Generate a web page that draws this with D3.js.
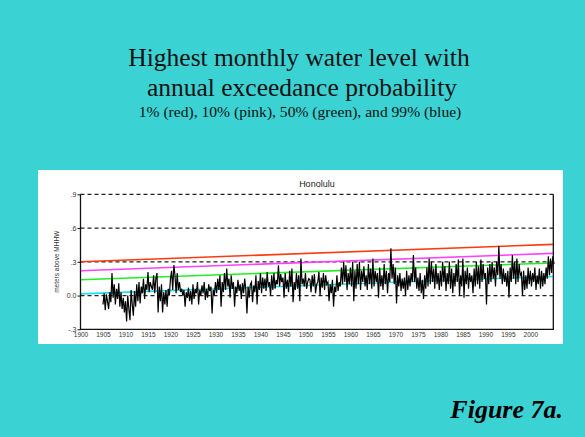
<!DOCTYPE html>
<html><head><meta charset="utf-8">
<script src="https://cdn.jsdelivr.net/npm/d3@7"></script>
<style>html,body{margin:0;padding:0;background:#3BD2D3;}svg{display:block;}</style>
</head><body>
<script>
// ---- data ----
const titleLines = ["Highest monthly water level with", "annual exceedance probability"];
const subtitle = "1% (red), 10% (pink), 50% (green), and 99% (blue)";
const stationName = "Honolulu";
const yLabel = "meters above MHHW";
const figureLabel = "Figure 7a.";
const xTicks = d3.range(1900, 2001, 5);
const yTicks = [-0.3, 0.0, 0.3, 0.6, 0.9];
const yTickLabels = ["-.3", "0.0", ".3", ".6", ".9"];
const gridValues = [0.0, 0.3, 0.6, 0.9];
const startYear = 1905;
const samplesPerYear = 4;
// highest water level, meters above MHHW (quarterly samples)
const waterLevel = [
 -0.08,0.02,-0.13,0.01, -0.05,-0.12,0.03,-0.06, 0.20,-0.02,0.10,-0.08, 0.06,-0.03,0.11,-0.10, 0.03,-0.12,-0.02,-0.15,
 -0.05,-0.23,0.00,-0.12, -0.22,0.05,-0.08,-0.18, 0.04,-0.10,0.10,-0.05, 0.12,-0.07,0.08,0.02, 0.15,-0.03,0.10,0.05,
 0.21,0.03,0.12,0.08, 0.05,0.18,0.02,0.15, 0.20,-0.15,0.08,-0.05, 0.10,-0.15,0.03,-0.08, 0.05,-0.10,0.06,0.00,
 0.15,0.22,0.05,0.27, 0.18,0.02,0.20,0.05, 0.12,0.03,0.06,0.00, 0.05,-0.10,0.03,-0.02, 0.07,-0.05,0.04,-0.08,
 0.10,-0.03,0.06,0.02, 0.12,-0.08,0.05,0.00, 0.09,0.02,0.12,-0.04, 0.06,-0.02,0.10,0.04, 0.08,-0.16,0.05,0.00,
 0.12,0.02,0.15,0.05, 0.18,-0.10,0.12,0.03, 0.20,0.05,0.24,0.08, 0.15,-0.02,0.18,0.06, 0.12,-0.10,0.08,0.02,
 0.14,0.04,0.10,-0.03, 0.11,0.02,0.15,0.05, -0.16,0.08,-0.02,0.10, 0.12,-0.06,0.09,0.03, 0.18,-0.08,0.13,0.05,
 0.20,0.02,0.16,0.06, 0.15,0.04,0.21,0.08, 0.12,0.00,0.18,0.05, 0.20,0.06,0.14,0.10, 0.27,0.08,0.19,0.12,
 0.16,-0.02,0.20,0.06, 0.14,0.03,0.22,0.08, 0.24,-0.06,0.12,0.05, 0.20,0.06,0.18,-0.05, 0.33,0.10,0.15,0.08,
 0.20,0.06,0.12,0.15, 0.14,0.03,0.18,0.08, 0.19,0.02,0.10,0.12, 0.21,0.00,0.16,0.07, 0.20,0.05,0.18,0.10,
 0.12,-0.05,0.10,0.02, 0.14,-0.10,0.08,0.03, 0.18,0.04,0.12,0.08, 0.25,0.10,0.30,0.12, 0.27,0.05,0.20,0.10,
 0.25,0.08,0.30,-0.05, 0.22,0.06,0.28,0.10, 0.30,0.05,0.22,0.12, 0.26,0.08,0.18,0.05, 0.28,0.10,0.24,0.06,
 0.33,0.08,0.22,0.12, 0.20,-0.02,0.25,0.08, 0.18,0.05,0.28,0.10, 0.22,0.02,0.20,0.12, 0.42,0.15,0.28,0.10,
 0.25,-0.07,0.18,0.08, 0.20,0.04,0.15,0.06, 0.16,0.00,0.22,0.05, 0.18,0.08,0.20,0.12, 0.36,0.12,0.25,0.06,
 0.16,0.04,0.20,0.02, 0.14,-0.03,0.18,0.06, 0.25,0.08,0.33,0.10, 0.30,0.12,0.24,0.06, 0.28,0.10,0.20,0.05,
 0.22,0.08,0.30,0.12, 0.26,0.04,0.20,0.10, 0.30,0.06,0.24,0.02, 0.20,0.08,0.28,0.12, 0.32,0.00,0.18,0.08,
 0.33,-0.02,0.22,0.10, 0.25,0.06,0.20,0.12, 0.18,0.02,0.24,0.08, 0.30,0.10,0.26,0.06, 0.32,0.12,0.28,0.15,
 0.20,-0.08,0.25,0.10, 0.28,0.12,0.30,0.15, 0.25,0.08,0.30,0.18, 0.44,0.15,0.28,0.10, 0.24,0.12,0.20,0.08,
 0.22,-0.02,0.25,0.12, 0.36,0.15,0.30,0.10, 0.33,0.12,0.28,0.18, 0.20,0.00,0.22,0.05, 0.18,0.06,0.25,0.10,
 0.22,0.08,0.20,0.12, 0.25,0.05,0.18,0.10, 0.24,0.06,0.22,0.08, 0.20,0.10,0.25,0.15, 0.35,0.18,0.33,0.20,
 0.35,0.28
];
// exceedance-probability trend lines (value at 1900 and at 2005)
const trendYears = [1900, 2005];
const trend1pct = [0.300, 0.455];
const trend10pct = [0.220, 0.375];
const trend50pct = [0.140, 0.290];
const trend99pct = [0.015, 0.170];
const trendColors = ["#FF3A10", "#FF40FF", "#20F020", "#20DCEC"];

// ---- drawing ----
const W = 585, H = 437;
const svg = d3.select("body").append("svg").attr("width", W).attr("height", H);
svg.append("rect").attr("width", W).attr("height", H).attr("fill", "#3BD2D3");

const serif = "'Liberation Serif','Times New Roman',serif";
const sans = "'Liberation Sans',Arial,sans-serif";

svg.append("text").attr("x", 299).attr("y", 66).attr("text-anchor", "middle")
  .attr("font-family", serif).attr("font-size", 25.5).attr("fill", "#111").text(titleLines[0]);
svg.append("text").attr("x", 302).attr("y", 96).attr("text-anchor", "middle")
  .attr("font-family", serif).attr("font-size", 25.5).attr("fill", "#111").text(titleLines[1]);
svg.append("text").attr("x", 300).attr("y", 117).attr("text-anchor", "middle")
  .attr("font-family", serif).attr("font-size", 15.6).attr("fill", "#111").text(subtitle);

svg.append("text").attr("x", 563).attr("y", 418).attr("text-anchor", "end")
  .attr("font-family", serif).attr("font-size", 26).attr("font-weight", "bold").attr("font-style", "italic")
  .attr("fill", "#000").text(figureLabel);

// white panel
svg.append("rect").attr("x", 38).attr("y", 170).attr("width", 525).attr("height", 174).attr("fill", "#fff");

const x = d3.scaleLinear().domain([1900, 2005.1]).range([80.5, 553.3]);
const y = d3.scaleLinear().domain([-0.3, 0.9]).range([329.3, 194.3]);

svg.append("text").attr("x", (80.5 + 553.3) / 2).attr("y", 187).attr("text-anchor", "middle")
  .attr("font-family", sans).attr("font-size", 9).attr("fill", "#222").text(stationName);

svg.append("text").attr("transform", `translate(59,${(194.3 + 329.3) / 2}) rotate(-90)`)
  .attr("text-anchor", "middle").attr("font-family", sans).attr("font-size", 6.5).attr("fill", "#333").text(yLabel);

// dashed grid lines
svg.append("g").selectAll("line").data(gridValues).join("line")
  .attr("x1", x.range()[0]).attr("x2", x.range()[1])
  .attr("y1", d => y(d)).attr("y2", d => y(d))
  .attr("stroke", "#222").attr("stroke-width", 1.2).attr("stroke-dasharray", "4,3");

// trend lines
const trends = [trend1pct, trend10pct, trend50pct, trend99pct];
const trendLine = d3.line().x(d => x(d[0])).y(d => y(d[1]));
svg.append("g").selectAll("path").data(trends.slice().reverse()).join("path")
  .attr("d", t => trendLine(trendYears.map((yr, i) => [yr, t[i]])))
  .attr("fill", "none").attr("stroke-width", 1.6)
  .attr("stroke", (t, i) => trendColors[3 - i]);

// data line
const pts = waterLevel.map((v, i) => [startYear + i / samplesPerYear, v]);
svg.append("path").attr("d", d3.line().x(d => x(d[0])).y(d => y(d[1]))(pts))
  .attr("fill", "none").attr("stroke", "#000").attr("stroke-width", 1.2).attr("stroke-linejoin", "miter");

// frame: left, bottom, right solid
const fr = svg.append("g").attr("stroke", "#111").attr("stroke-width", 1.3).attr("fill", "none");
fr.append("path").attr("d", `M${x.range()[0]},${y(0.9)}V${y(-0.3)}H${x.range()[1]}V${y(0.9)}`);

// y axis ticks
const yAxis = d3.axisLeft(y).tickValues(yTicks).tickSize(3).tickPadding(1)
  .tickFormat((d, i) => yTickLabels[i]);
const gy = svg.append("g").attr("transform", `translate(${x.range()[0]},0)`).call(yAxis);
gy.select(".domain").remove();
gy.selectAll("text").attr("font-family", sans).attr("font-size", 7).attr("fill", "#333");
gy.selectAll("line").attr("stroke", "#111");

// x axis
const xAxis = d3.axisBottom(x).tickValues(xTicks).tickSize(0).tickPadding(3).tickFormat(d3.format("d"));
const gx = svg.append("g").attr("transform", `translate(0,${y(-0.3)})`).call(xAxis);
gx.select(".domain").remove();
gx.selectAll("text").attr("font-family", sans).attr("font-size", 6.5).attr("fill", "#333");
</script>
</body></html>
